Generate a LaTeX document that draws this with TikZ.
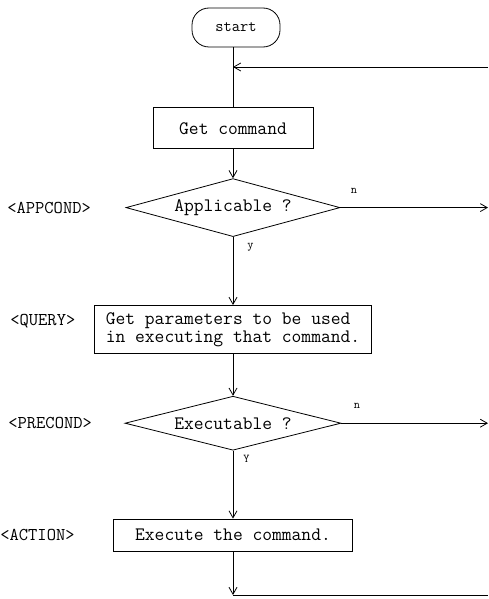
\documentclass[tikz,border=0pt]{standalone}
\usepackage{fontspec}
\usetikzlibrary{positioning,arrows.meta,shapes.geometric}
\tikzset{
	every picture/.style={/utils/exec={\ttfamily}},
	every node/.style = {font=\ttfamily\fontsize{19}{18}\selectfont, inner sep = 0},
	box/.style = {draw, rectangle},
	decision/.style = {draw, diamond, aspect=3.7},
	tag/.style = {anchor=west, font=\ttfamily\fontsize{18}{18}\selectfont},
	branch/.style = {font=\ttfamily\fontsize{12}{12}\selectfont},
	>={Straight Barb[length=7pt,width=8pt]}
}

\begin{document}
\begin{tikzpicture}[x=1pt, y=-1pt, line width=0.8pt]
		\useasboundingbox (0,0) rectangle (489,599);
		\node[draw, rounded corners=17pt, minimum width=88pt, minimum height=39pt, font=\ttfamily\fontsize{16}{16}\selectfont] (start) at (236,27.5) {start};
		\node[box, minimum width=160pt, minimum height=41pt, below=60pt of start, xshift=-3pt] (getcmd) {Get command};
		\node[decision, minimum width=214pt, minimum height=58pt, below=29pt of getcmd] (appcond) {Applicable ?};
		\node[box, minimum width=277pt, minimum height=48pt, below=68pt of appcond, align=left] (query) {Get parameters to be used\\in executing that command.};
		\node[decision, minimum width=216pt, minimum height=54pt, below=42pt of query] (precond) {Executable ?};
		\node[box, minimum width=239pt, minimum height=32pt, below=68pt of precond] (action) {Execute the command.};
		
		% condition tags on the left
		\node[tag] (appcondtag) at (7,0 |- appcond) {<APPCOND>};
		\node[tag] (querytag) at (10,321) {<QUERY>};
		\node[tag] (precondtag) at (8,0 |- precond) {<PRECOND>};
		\node[tag] (actiontag) at (0,0 |- action) {<ACTION>};
		
		% branch labels
		\node[branch, above right=14pt and 10pt of appcond.east] (appno) {n};
		\node[branch, below right=6pt and 14pt of appcond.south] (appyes) {y};
		\node[branch, above right=14pt and 12pt of precond.east] (preno) {n};
		\node[branch, below right=4pt and 10pt of precond.south] (preyes) {Y};
		
		\coordinate (loopin) at (488,67);
		\coordinate (loopout) at (action.south |- 0,595);
		
		\draw (start.south -| getcmd.north) -- (getcmd.north);
		\draw[->] (loopin) -- (getcmd.north |- loopin);
		\draw[->] (getcmd) -- (appcond);
		\draw[->] (appcond) -- (query);
		\draw[->] (query) -- (precond);
		\draw[->] (precond) -- (action);
		\draw[->] (appcond.east) -- (appcond.east -| loopin);
		\draw[->] (precond.east) -- (precond.east -| loopin);
		\draw[->] (action) -- (loopout);
		\draw (loopout) -- (loopout -| loopin);
\end{tikzpicture}
\end{document}
